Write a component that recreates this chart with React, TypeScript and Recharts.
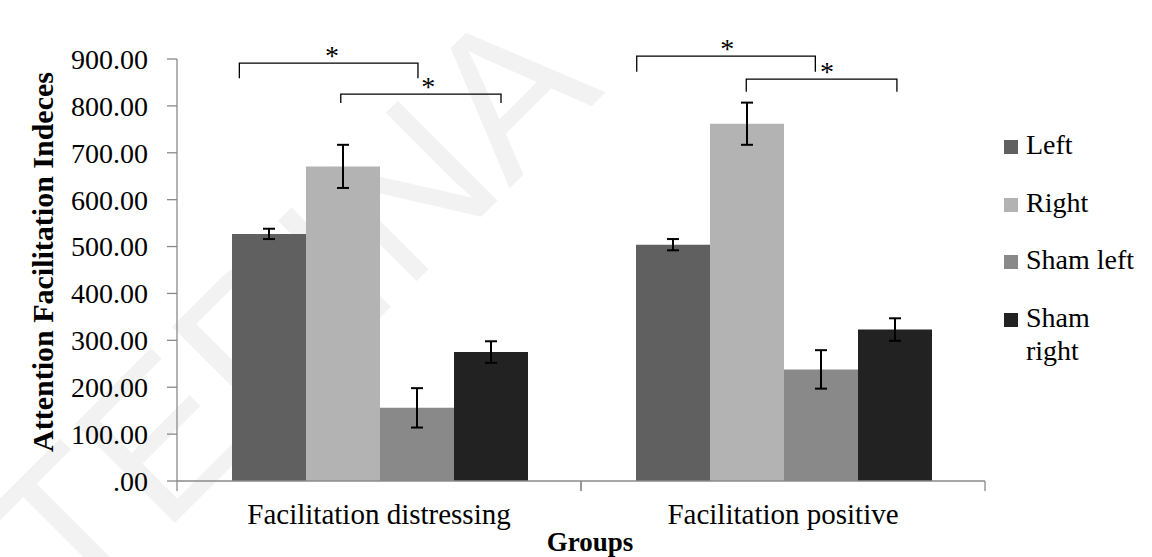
import React from 'react';
import { BarChart, Bar, XAxis, YAxis, ErrorBar, Legend, Customized } from 'recharts';

// ---------- data ----------
const categories = ['Facilitation distressing', 'Facilitation positive'];
const leftValues = [527, 504];
const rightValues = [671, 762];
const shamLeftValues = [156, 238];
const shamRightValues = [275, 323];
const leftErrors = [11, 12];
const rightErrors = [46, 45];
const shamLeftErrors = [42, 41];
const shamRightErrors = [23, 24];
const yTicks = [0, 100, 200, 300, 400, 500, 600, 700, 800, 900];

const seriesNames = ['Left', 'Right', 'Sham left', 'Sham right'];
const seriesKeys = ['left', 'right', 'shamLeft', 'shamRight'];
const seriesColors = ['#606060', '#b3b3b3', '#898989', '#222222'];

// significance brackets (group index, span in bar units, heights in data units)
const bracketGroups = [0, 0, 1, 1];
const bracketFrom = [0.1, 1.48, 0.01, 1.5];
const bracketTo = [2.53, 3.66, 2.44, 3.55];
const bracketStarAt = [1.36, 2.67, 1.24, 2.6];
const bracketTop = [891, 825, 906, 857];
const bracketFoot = [859, 806, 873, 830];
const bracketLabels = ['*', '*', '*', '*'];

const data = categories.map((name, i) => ({
  name,
  left: leftValues[i],
  right: rightValues[i],
  shamLeft: shamLeftValues[i],
  shamRight: shamRightValues[i],
  leftErr: leftErrors[i],
  rightErr: rightErrors[i],
  shamLeftErr: shamLeftErrors[i],
  shamRightErr: shamRightErrors[i],
}));

// ---------- layout ----------
const W = 1152;
const H = 557;
const PLOT_LEFT = 177;
const PLOT_RIGHT = 985;
const PLOT_TOP = 59;
const PLOT_BOTTOM = 481;
const X_AXIS_H = 40;
const CAT_GAP = 55;
const Y_MAX = 900;
const FONT = "'Liberation Serif', 'Times New Roman', serif";
const AXIS_COLOR = '#8a8a8a';

const plotW = PLOT_RIGHT - PLOT_LEFT;
const plotH = PLOT_BOTTOM - PLOT_TOP;
const band = plotW / categories.length;
const barW = (band - 2 * CAT_GAP) / seriesKeys.length;
const yPx = (v: number) => PLOT_TOP + plotH * (1 - v / Y_MAX);
const xPx = (group: number, barUnits: number) => PLOT_LEFT + group * band + CAT_GAP + barUnits * barW;

const XTick = (props: any) => {
  const { x, y, payload } = props;
  const half = band / 2;
  return (
    <g>
      <line x1={x - half} x2={x - half} y1={y - 10} y2={y} stroke={AXIS_COLOR} strokeWidth={1.3} />
      <line x1={x + half} x2={x + half} y1={y - 10} y2={y} stroke={AXIS_COLOR} strokeWidth={1.3} />
      <text x={x} y={y + 33} textAnchor="middle" fontSize={29} fontFamily={FONT} fill="#000">
        {payload.value}
      </text>
    </g>
  );
};

const Annotations = () => (
  <g>
    <text
      x={606}
      y={92}
      transform="rotate(-45, 606, 92)"
      textAnchor="end"
      fontSize={205}
      fontFamily="'Liberation Sans', Arial, sans-serif"
      fill="#000"
      fillOpacity={0.05}
    >
      TERINA
    </text>
    {bracketGroups.map((g, i) => {
      const x1 = xPx(g, bracketFrom[i]);
      const x2 = xPx(g, bracketTo[i]);
      const yt = yPx(bracketTop[i]);
      const yf = yPx(bracketFoot[i]);
      return (
        <g key={i}>
          <path d={`M${x1},${yf} L${x1},${yt} L${x2},${yt} L${x2},${yf}`} fill="none" stroke="#000" strokeWidth={1.3} />
          <text x={xPx(g, bracketStarAt[i])} y={yt + 2} textAnchor="middle" fontSize={28} fontFamily={FONT} fill="#000">
            {bracketLabels[i]}
          </text>
        </g>
      );
    })}
    <text
      x={53}
      y={262}
      transform="rotate(-90, 53, 262)"
      textAnchor="middle"
      fontSize={30}
      fontWeight="bold"
      fontFamily={FONT}
      fill="#000"
    >
      Attention Facilitation Indeces
    </text>
    <text x={590} y={551} textAnchor="middle" fontSize={27} fontWeight="bold" fontFamily={FONT} fill="#000">
      Groups
    </text>
  </g>
);

const renderLegend = () => (
  <div style={{ fontFamily: FONT, fontSize: 28, lineHeight: '33px', color: '#000', textAlign: 'left' }}>
    {seriesNames.map((n, i) => (
      <div key={n} style={{ display: 'flex', alignItems: 'flex-start', marginBottom: 24.5 }}>
        <div style={{ width: 14, height: 14, marginTop: 12, background: seriesColors[i], flex: 'none' }} />
        <div style={{ marginLeft: 8, width: 115 }}>{n}</div>
      </div>
    ))}
  </div>
);

export default function App() {
  return (
    <div style={{ position: 'absolute', left: 0, top: 0, width: W, height: H, background: '#fff' }}>
      <BarChart
        width={W}
        height={H}
        data={data}
        margin={{ top: PLOT_TOP, right: W - PLOT_RIGHT, bottom: H - PLOT_BOTTOM - X_AXIS_H, left: 0 }}
        barGap={0}
        barCategoryGap={CAT_GAP}
      >
        <XAxis
          dataKey="name"
          height={X_AXIS_H}
          tickLine={false}
          tickSize={10}
          tickMargin={0}
          stroke={AXIS_COLOR}
          strokeWidth={1.3}
          tick={<XTick />}
          interval={0}
        />
        <YAxis
          width={PLOT_LEFT}
          domain={[0, Y_MAX]}
          ticks={yTicks}
          interval={0}
          tickSize={10}
          tickMargin={19}
          stroke={AXIS_COLOR}
          strokeWidth={1.3}
          tickLine={{ stroke: AXIS_COLOR, strokeWidth: 1.3 }}
          tick={{ fill: '#000', fontSize: 28, fontFamily: FONT }}
          tickFormatter={(v: number) => (v === 0 ? '.00' : v.toFixed(2))}
        />
        {seriesKeys.map((k, i) => (
          <Bar key={k} dataKey={k} name={seriesNames[i]} fill={seriesColors[i]} isAnimationActive={false}>
            <ErrorBar dataKey={`${k}Err`} width={6} stroke="#000" strokeWidth={2} direction="y" />
          </Bar>
        ))}
        <Legend
          layout="horizontal"
          verticalAlign="middle"
          align="center"
          wrapperStyle={{ left: 1004, top: 128, width: 148 }}
          content={renderLegend}
        />
        <Customized component={Annotations} />
      </BarChart>
    </div>
  );
}
